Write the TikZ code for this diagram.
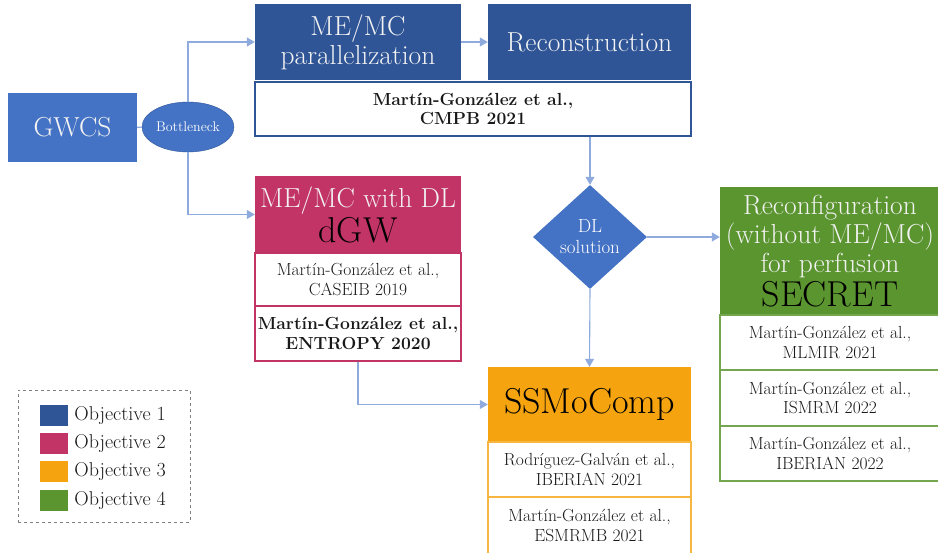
\documentclass[tikz,border=0pt]{standalone}
\usepackage{amsmath}
\usetikzlibrary{positioning,calc,arrows.meta,shapes.geometric}
\definecolor{objone}{HTML}{2F5597}
\definecolor{lightblue}{HTML}{4472C4}
\definecolor{objtwo}{HTML}{C23366}
\definecolor{objthree}{HTML}{F5A40F}
\definecolor{objfour}{HTML}{5B9530}
\definecolor{arrowblue}{HTML}{8FAADC}
\tikzset{
	head/.style={inner sep=0pt, align=center, text=white!95!black, font=\fontsize{27.5}{29}\selectfont},
	refbox/.style={draw, line width=1.1pt, fill=white, inner sep=0pt, align=center, text=black!90, font=\fontsize{17.5}{19.5}\selectfont},
	flow/.style={draw=arrowblue, line width=1.1pt, -{Triangle[width=9pt,length=8pt]}},
	link/.style={draw=arrowblue, line width=1.1pt},
	keybox/.style={inner sep=0pt, minimum width=28pt, minimum height=21pt},
	keytext/.style={inner sep=0pt, text=black!90, font=\fontsize{20}{22}\selectfont}
}
\newcommand{\bigname}[1]{{\color{black}\fontsize{36}{38}\selectfont #1}}

\begin{document}
\begin{tikzpicture}[x=1pt, y=-1pt]
	\useasboundingbox (0,0) rectangle (938,553);
	\begin{scope}
		% start
		\node[head, fill=lightblue, minimum width=129pt, minimum height=69pt] (gwcs) at (72.5,127.5) {GWCS};
		\node[ellipse, fill=lightblue, draw=objone, text=white, inner sep=0pt, minimum width=92pt, minimum height=50pt, font=\fontsize{14}{16}\selectfont] (neck) at (188,127) {Bottleneck};

		% objective 1
		\node[head, fill=objone, minimum width=206pt, minimum height=76pt] (par) at (358,42) {ME/MC\\parallelization};
		\node[head, fill=objone, minimum width=203pt, minimum height=76pt] (rec) at (589.5,42) {Reconstruction};
		\node[refbox, draw=objone, font=\fontsize{17.5}{19}\selectfont\bfseries, minimum width=436pt, minimum height=54pt] (cmpb) at (473,109) {Martín-González et al.,\\CMPB 2021};

		\node[diamond, fill=lightblue, text=white, align=center, inner sep=0pt, minimum width=114pt, minimum height=104pt, font=\fontsize{19}{21}\selectfont] (dl) at (590,237) {DL\\solution};

		% objective 2
		\node[head, fill=objtwo, minimum width=206pt, minimum height=77pt] (memc) at (358,214.5) {ME/MC with DL\\[2pt]\bigname{dGW}};
		\node[refbox, draw=objtwo, minimum width=206pt, minimum height=53pt] (caseib) at (358,279.5) {Martín-González et al.,\\CASEIB 2019};
		\node[refbox, draw=objtwo, font=\fontsize{17.5}{19.5}\selectfont\bfseries, minimum width=206pt, minimum height=55pt] (entropy) at (358,333.5) {Martín-González et al.,\\ENTROPY 2020};

		% objective 3
		\node[head, fill=objthree, minimum width=203pt, minimum height=75pt] (ssm) at (589.5,404.5) {\bigname{SSMoComp}};
		\node[refbox, draw=objthree!80, minimum width=203pt, minimum height=55pt] (iber21) at (589.5,469.5) {Rodríguez-Galván et al.,\\IBERIAN 2021};
		\node[refbox, draw=objthree!80, minimum width=203pt, minimum height=57pt] (esmrmb) at (589.5,525.5) {Martín-González et al.,\\ESMRMB 2021};

		% objective 4
		\node[head, fill=objfour, minimum width=220pt, minimum height=128pt] (secret) at (830,251) {Reconfiguration\\(without ME/MC)\\for perfusion\\[3pt]\bigname{SECRET}};
		\node[refbox, draw=objfour!85, minimum width=220pt, minimum height=55pt] (mlmir) at (830,342.5) {Martín-González et al.,\\MLMIR 2021};
		\node[refbox, draw=objfour!85, minimum width=220pt, minimum height=56pt] (ismrm) at (830,398) {Martín-González et al.,\\ISMRM 2022};
		\node[refbox, draw=objfour!85, minimum width=220pt, minimum height=55pt] (iber22) at (830,453.5) {Martín-González et al.,\\IBERIAN 2022};

		\draw[link] (gwcs) -- (neck);
		\draw[flow] (neck.north) |- (par.west);
		\draw[flow] (neck.south) |- (memc.west);
		\draw[flow] (par.east |- rec.west) -- (rec.west);
		\draw[flow] (cmpb.south -| dl.north) -- (dl.north);
		\draw[flow] (dl.east) -- (dl.east -| secret.west);
		\draw[flow] (dl.south) -- (ssm.north);
		\draw[flow] (entropy.south) |- (ssm.west);

		% legend
		\node[draw=gray, dashed, minimum width=172pt, minimum height=132pt] (legend) at (104,456) {};
		\node[keybox, fill=objone] (k1) at (54,415.5) {};
		\node[keybox, fill=objtwo] (k2) at (54,443.5) {};
		\node[keybox, fill=objthree] (k3) at (54,471.5) {};
		\node[keybox, fill=objfour] (k4) at (54,500.5) {};
		\node[keytext, right=6pt of k1] (t1) {Objective 1};
		\node[keytext, right=6pt of k2] (t2) {Objective 2};
		\node[keytext, right=6pt of k3] (t3) {Objective 3};
		\node[keytext, right=6pt of k4] (t4) {Objective 4};
	\end{scope}
\end{tikzpicture}
\end{document}
